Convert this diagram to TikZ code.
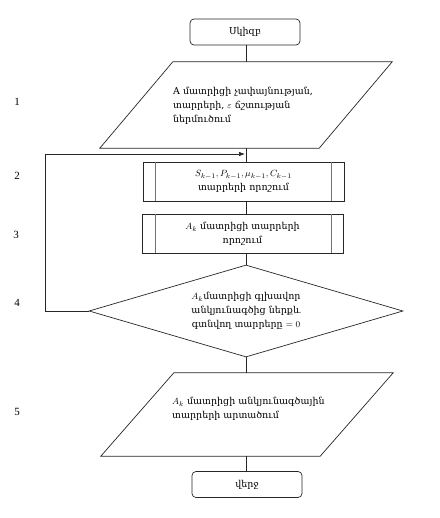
\documentclass[tikz,border=0pt]{standalone}
\usepackage[no-math]{fontspec}
\setmainfont{Liberation Serif}
\newfontfamily\armfont{DejaVu Serif}
\usetikzlibrary{shapes.geometric,arrows.meta,calc}
\begin{document}
\begin{tikzpicture}[x=1pt,y=-1pt,
  every node/.style={font=\armfont\fontsize{9.5}{13.7}\selectfont},
  ln/.style={draw=black!85, line width=0.7pt},
  term/.style={ln, rounded corners=4pt, minimum width=110pt, minimum height=26pt, inner sep=0pt},
  iobox/.style={inner sep=0pt},
  iotext/.style={inner sep=0pt, anchor=west, align=left},
  procbox/.style={ln, inner sep=0pt, minimum width=201pt, minimum height=39pt, align=center},
  inner/.style={draw=black!55, line width=0.7pt},
  dec/.style={ln, diamond, aspect=3.4, inner sep=0pt, minimum width=314pt, minimum height=92pt, align=center},
  num/.style={font=\fontsize{11}{13}\selectfont},
  arr/.style={ln, -{Latex[length=6pt,width=4.5pt]}}
]
\useasboundingbox (0,0) rectangle (439,518);

% start
\node[term] (start) at (245,32) {Սկիզբ};

% input parallelogram
\node[iobox, minimum width=292pt, minimum height=86pt] (p1) at (246,105) {};
\draw[ln] ($(p1.north west)+(73,0)$) -- (p1.north east) -- ($(p1.south east)-(73,0)$) -- (p1.south west) -- cycle;
\node[iotext] (p1t) at (173,106)
  {A մատրիցի չափայնության,\\ տարրերի, $\varepsilon$ ճշտության\\ ներմուծում};

% box 2
\node[procbox] (b2) at (243.5,181.5)
  {$S_{k-1}, P_{k-1}, \mu_{k-1}, C_{k-1}$\\ տարրերի որոշում};
\draw[inner] ($(b2.north west)+(13,0)$) -- ($(b2.south west)+(13,0)$);
\draw[inner] ($(b2.north east)-(13,0)$) -- ($(b2.south east)-(13,0)$);

% box 3
\node[procbox] (b3) at (242.5,233.5)
  {$A_k$ մատրիցի տարրերի\\ որոշում};
\draw[inner] ($(b3.north west)+(14,0)$) -- ($(b3.south west)+(14,0)$);
\draw[inner] ($(b3.north east)-(12,0)$) -- ($(b3.south east)-(12,0)$);

% decision
\node[dec] (d) at (246,311)
  {$A_k$մատրիցի գլխավոր\\ անկյունագծից ներքև\\ գտնվող տարրերը $=0$};

% output parallelogram
\node[iobox, minimum width=292pt, minimum height=83pt] (p5) at (247,414.5) {};
\draw[ln] ($(p5.north west)+(73,0)$) -- (p5.north east) -- ($(p5.south east)-(73,0)$) -- (p5.south west) -- cycle;
\node[iotext] (p5t) at (172,409)
  {$A_k$ մատրիցի անկյունագծային\\ տարրերի արտածում};

% end
\node[term] (end) at (247,484.5) {վերջ};

% connectors
\draw[ln] (start.south -| p1.north) -- (p1.north);
\draw[ln] (p1.south) -- (p1.south |- b2.north);
\draw[ln] (p1.south |- b2.south) -- (p1.south |- b3.north);
\draw[ln] (p1.south |- b3.south) -- (d.north);
\draw[ln] (d.south) -- (d.south |- p5.north);
\draw[ln] (p5.south -| d.south) -- (d.south |- end.north);

% feedback loop
\coordinate (fb) at (245,154);
\coordinate (lft) at (45,311);
\draw[arr] (d.west) -- (lft) |- (fb);

% step numbers
\node[num] (n1) at (17,102) {1};
\node[num] (n2) at (17,176) {2};
\node[num] (n3) at (16,235) {3};
\node[num] (n4) at (17,303) {4};
\node[num] (n5) at (17,412) {5};
\end{tikzpicture}
\end{document}
